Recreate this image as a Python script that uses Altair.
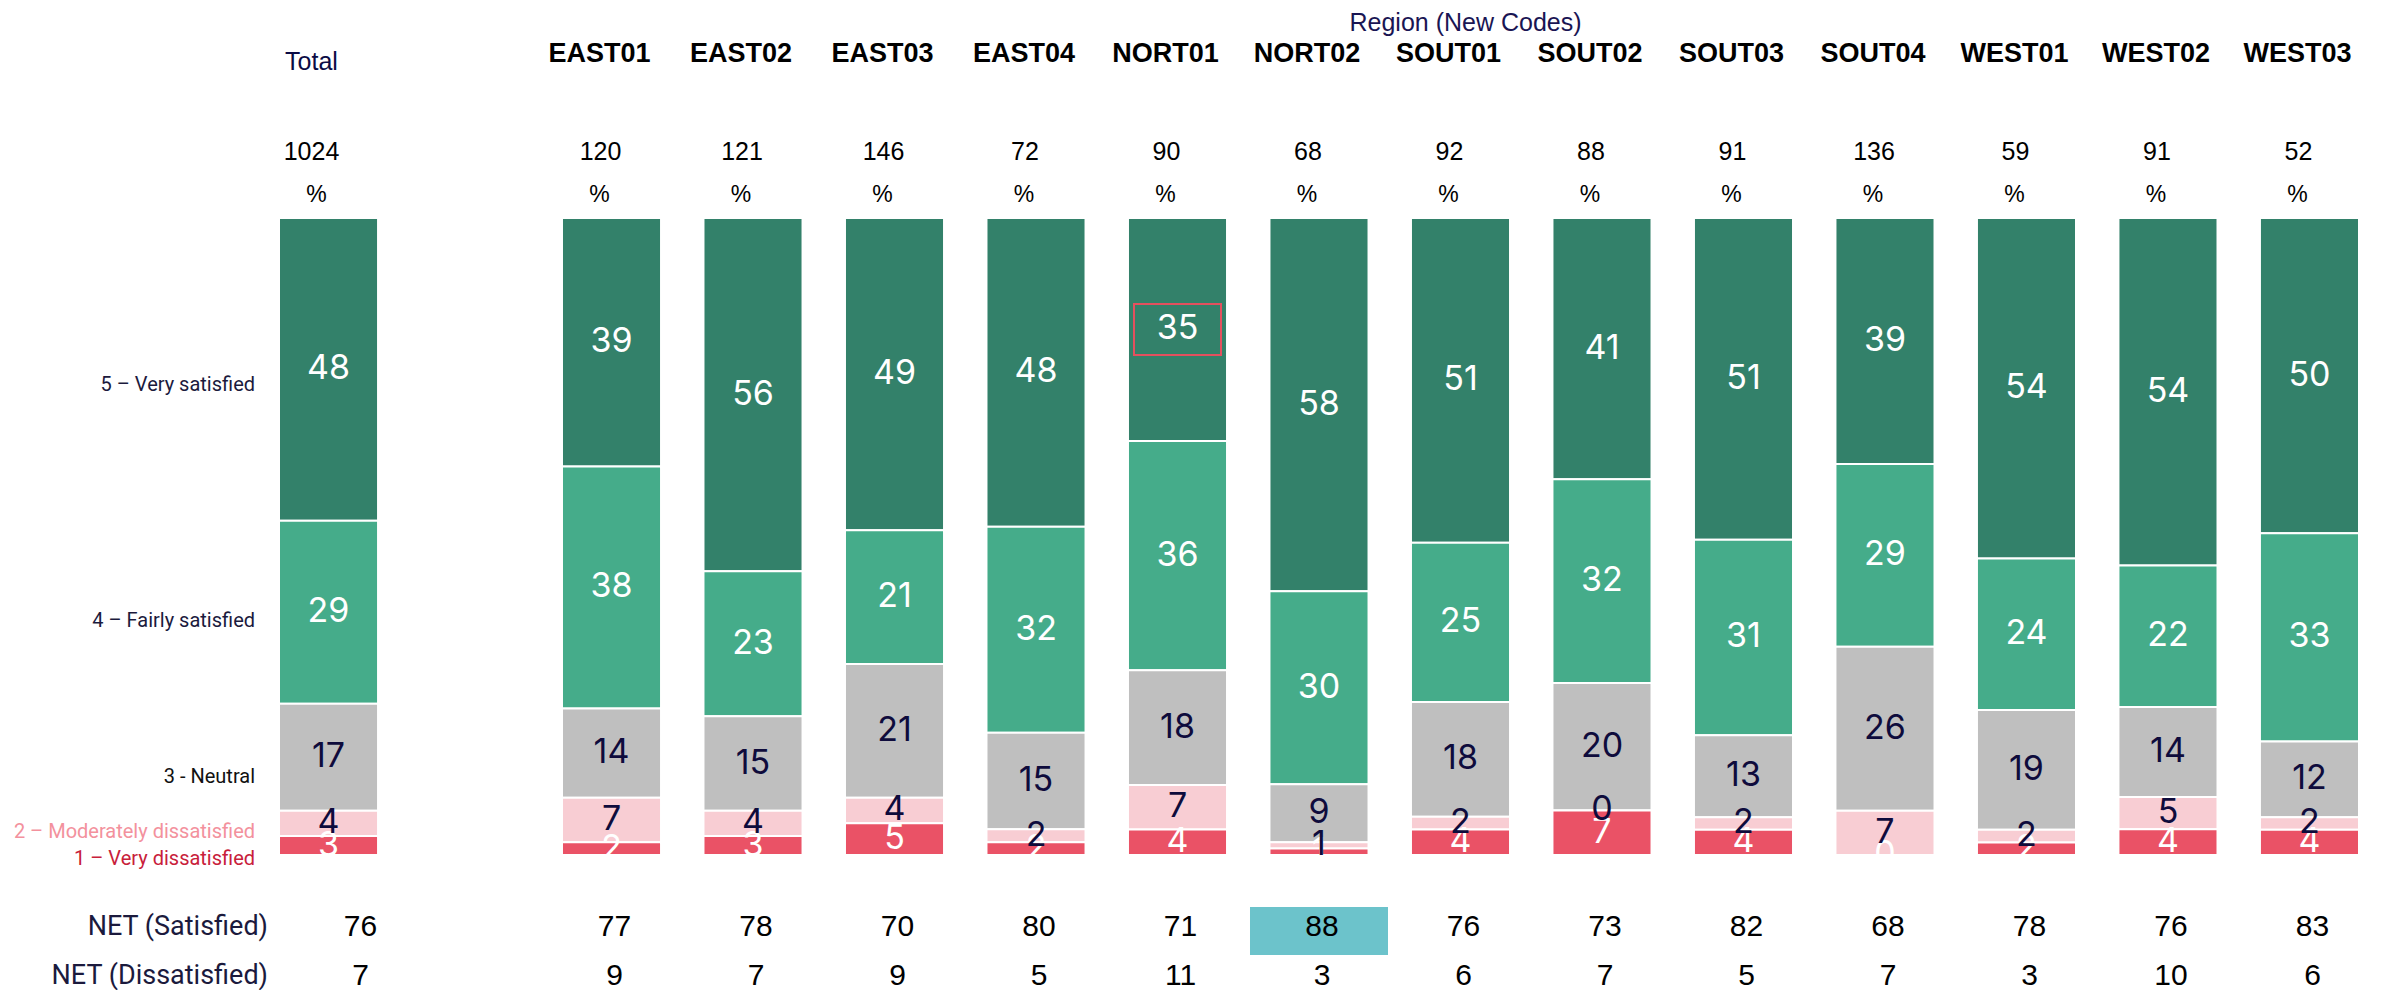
import altair as alt
import pandas as pd

# ---------------- data ----------------
regions = ["Total", "EAST01", "EAST02", "EAST03", "EAST04", "NORT01", "NORT02",
           "SOUT01", "SOUT02", "SOUT03", "SOUT04", "WEST01", "WEST02", "WEST03"]
base_n = [1024, 120, 121, 146, 72, 90, 68, 92, 88, 91, 136, 59, 91, 52]

levels = ["5 – Very satisfied", "4 – Fairly satisfied", "3 - Neutral",
          "2 – Moderately dissatisfied", "1 – Very dissatisfied"]
very_sat = [48, 39, 56, 49, 48, 35, 58, 51, 41, 51, 39, 54, 54, 50]
fairly_sat = [29, 38, 23, 21, 32, 36, 30, 25, 32, 31, 29, 24, 22, 33]
neutral = [17, 14, 15, 21, 15, 18, 9, 18, 20, 13, 26, 19, 14, 12]
mod_dis = [4, 7, 4, 4, 2, 7, 1, 2, 0, 2, 7, 2, 5, 2]
very_dis = [3, 2, 3, 5, 2, 4, 1, 4, 7, 4, 0, 2, 4, 4]

net_sat = [76, 77, 78, 70, 80, 71, 88, 76, 73, 82, 68, 78, 76, 83]
net_dis = [7, 9, 7, 9, 5, 11, 3, 6, 7, 5, 7, 3, 10, 6]

highlight_net_sat = ["NORT02"]
boxed_cells = [("NORT01", "5 – Very satisfied")]

title_text = "Region (New Codes)"
net_labels = ["NET (Satisfied)", "NET (Dissatisfied)"]

# ---------------- styling / layout ----------------
bar_colors = ["#33816a", "#45ac8a", "#bfbfbf", "#f8cdd3", "#ea5266"]
row_label_colors = ["#1b1a3d", "#1b1a3d", "#111111", "#f3919d", "#c8203a"]
NAVY = "#0e0b3c"
SANS = "Inter, Liberation Sans, sans-serif"
ROW = "Roboto, Liberation Sans, sans-serif"
HEAD = "Liberation Sans, DejaVu Sans, sans-serif"

# y positions (in bar-share units: 0 = bar bottom, 1 = bar top)
Y_TITLE, Y_HEAD, Y_TOTAL_HEAD, Y_BASE, Y_PCT = 1.306, 1.257, 1.245, 1.1036, 1.036
Y_NET_SAT, Y_NET_DIS = -0.113, -0.19
Y_HL_TOP, Y_HL_BOT = -0.0816, -0.157
row_label_y = [0.738, 0.367, 0.122, 0.036, -0.006]

slots = ["_lbl", "Total", "_gap"] + regions[1:]
xs = alt.Scale(domain=slots, range=[129.5, 2351], paddingInner=0.3, paddingOuter=0)
ys = alt.Scale(domain=[0, 1], range=[847, 210], nice=False, zero=False)

# ---------------- tables ----------------
series = [very_sat, fairly_sat, neutral, mod_dis, very_dis]
rows = []
for k, (lev, vals) in enumerate(zip(levels, series)):
    for r, v in zip(regions, vals):
        rows.append({"region": r, "level": lev, "value": v, "rank": 5 - k,
                     "boxed": int((r, lev) in boxed_cells)})
df_long = pd.DataFrame(rows)

df_cols = pd.DataFrame({"region": regions, "base": base_n, "net_sat": net_sat,
                        "net_dis": net_dis,
                        "hl": [int(r in highlight_net_sat) for r in regions]})

df_rowlab = pd.DataFrame({"region": ["_lbl"] * len(levels), "label": levels,
                          "y": row_label_y, "col": row_label_colors})
df_netlab = pd.DataFrame({"region": ["_lbl"] * 2, "label": net_labels,
                          "y": [Y_NET_SAT, Y_NET_DIS]})
df_title = pd.DataFrame({"region": ["SOUT01"], "label": [title_text]})

X = alt.X("region:N", scale=xs, axis=None)
YP = alt.Y("yy:Q", scale=ys, axis=None)

# ---------------- layers ----------------
bars = alt.Chart(df_long).mark_bar(stroke="white", strokeWidth=2).encode(
    x=X,
    y=alt.Y("value:Q", stack="normalize", scale=ys, axis=None),
    color=alt.Color("level:N", scale=alt.Scale(domain=levels, range=bar_colors), legend=None),
    order=alt.Order("rank:Q", sort="ascending"),
)

lab_base = alt.Chart(df_long).transform_joinaggregate(
    tot="sum(value)", groupby=["region"]
).transform_window(
    cum="sum(value)", sort=[alt.SortField("rank", order="ascending")],
    groupby=["region"], frame=[None, 0]
).transform_calculate(
    yy="(datum.cum - datum.value / 2) / datum.tot"
)

labels_white = lab_base.transform_filter("datum.rank == 1 || datum.rank >= 4").mark_text(
    font=SANS, fontSize=34, color="white", baseline="middle"
).encode(x=X, y=YP, text="value:Q")

labels_dark = lab_base.transform_filter("datum.rank == 2 || datum.rank == 3").mark_text(
    font=SANS, fontSize=34, color=NAVY, baseline="middle"
).encode(x=X, y=YP, text="value:Q")

box = lab_base.transform_filter("datum.boxed == 1").transform_calculate(
    lo="datum.yy - 0.04", hi="datum.yy + 0.04"
).mark_bar(size=87, fillOpacity=0, stroke="#e4505e", strokeWidth=2).encode(
    x=X, y=alt.Y("lo:Q", scale=ys, axis=None), y2="hi:Q"
)

title = alt.Chart(df_title).transform_calculate(yy=str(Y_TITLE)).mark_text(
    font=HEAD, fontSize=25, color="#1a1553", baseline="middle", dx=5
).encode(x=X, y=YP, text="label:N")

is_total = "datum.region == 'Total'"
not_total = "datum.region != 'Total'"

head_regions = alt.Chart(df_cols).transform_filter(not_total).transform_calculate(
    yy=str(Y_HEAD)
).mark_text(
    font=HEAD, fontSize=27, fontWeight="bold", color="black", baseline="middle", dx=-12
).encode(x=X, y=YP, text="region:N")

head_total = alt.Chart(df_cols).transform_filter(is_total).transform_calculate(
    yy=str(Y_TOTAL_HEAD)
).mark_text(
    font=HEAD, fontSize=25, color="#0b0b45", baseline="middle", dx=-17
).encode(x=X, y=YP, text="region:N")


def row_text(field, ypos, size, dx_total, dx_other, font=HEAD, color="black"):
    out = []
    for flt, dx in ((is_total, dx_total), (not_total, dx_other)):
        out.append(
            alt.Chart(df_cols).transform_filter(flt).transform_calculate(yy=str(ypos))
            .mark_text(font=font, fontSize=size, color=color, baseline="middle", dx=dx)
            .encode(x=X, y=YP, text=field)
        )
    return out


base_txt = row_text("base:Q", Y_BASE, 25, -17, -11)

pct_txt = alt.Chart(df_cols).transform_calculate(yy=str(Y_PCT), pct="'%'").mark_text(
    font=HEAD, fontSize=23, color="black", baseline="middle", dx=-12
).encode(x=X, y=YP, text="pct:N")

hl_rect = alt.Chart(df_cols).transform_filter("datum.hl == 1").transform_calculate(
    lo=str(Y_HL_BOT), hi=str(Y_HL_TOP)
).mark_bar(size=138, color="#6cc3cb").encode(
    x=X, y=alt.Y("lo:Q", scale=ys, axis=None), y2="hi:Q"
)

net_sat_txt = row_text("net_sat:Q", Y_NET_SAT, 30, 32, 3)
net_dis_txt = row_text("net_dis:Q", Y_NET_DIS, 30, 32, 3)

row_labels = alt.Chart(df_rowlab).transform_calculate(yy="datum.y").mark_text(
    font=ROW, fontSize=20, align="right", baseline="middle", dx=68
).encode(x=X, y=YP, text="label:N", fill=alt.Fill("col:N", scale=None))

net_row_labels = alt.Chart(df_netlab).transform_calculate(yy="datum.y").mark_text(
    font=ROW, fontSize=27, align="right", baseline="middle", dx=81, color="#1b1a3d"
).encode(x=X, y=YP, text="label:N")

chart = alt.layer(
    bars, labels_white, labels_dark, box, title, head_regions, head_total,
    *base_txt, pct_txt, hl_rect, *net_sat_txt, *net_dis_txt, row_labels, net_row_labels
).properties(
    width=2370, height=982, padding=0, autosize="none"
).configure_view(stroke=None)

chart.save("out.html", embed_options={"renderer": "svg", "actions": False})
